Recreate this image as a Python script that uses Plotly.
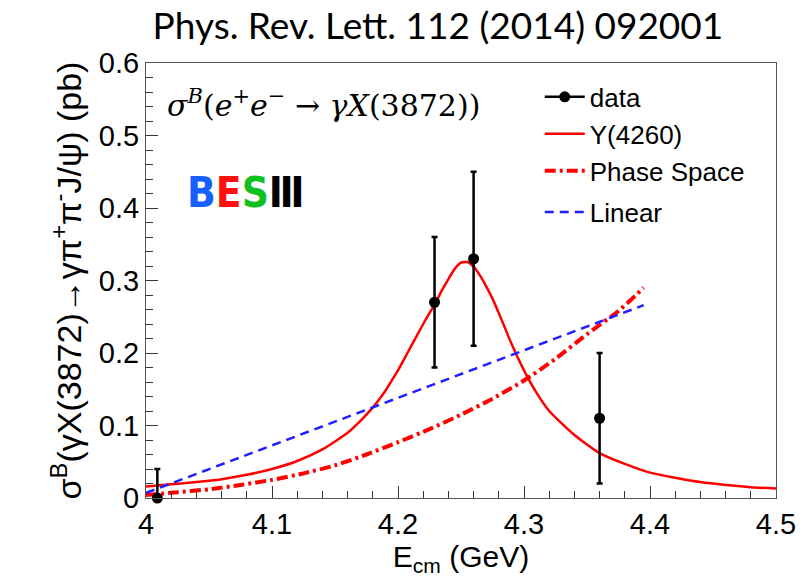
import plotly.graph_objects as go

# ---- data ----
data_x = [4.009, 4.229, 4.260, 4.360]
data_y = [0.00, 0.27, 0.33, 0.11]
data_err_up = [0.04, 0.09, 0.12, 0.09]
data_err_dn = [0.00, 0.09, 0.12, 0.09]

y4260_x = [4.00, 4.02, 4.04, 4.06, 4.08, 4.10, 4.12, 4.14, 4.16, 4.17, 4.18, 4.185, 4.19,
           4.195, 4.20, 4.205, 4.21, 4.215, 4.22, 4.225, 4.23, 4.235, 4.24, 4.245,
           4.25, 4.255, 4.26, 4.265, 4.27, 4.275, 4.28, 4.285, 4.29, 4.30,
           4.31, 4.32, 4.34, 4.36, 4.38, 4.40, 4.42, 4.44, 4.46, 4.48, 4.50]
y4260_y = [0.016, 0.019, 0.022, 0.026, 0.032, 0.040, 0.051, 0.067, 0.090, 0.106, 0.125, 0.136, 0.148,
           0.162, 0.176, 0.192, 0.208, 0.224, 0.240, 0.255, 0.270, 0.287, 0.302, 0.316,
           0.3245, 0.3255, 0.319, 0.307, 0.292, 0.275, 0.255, 0.234, 0.213, 0.176,
           0.145, 0.120, 0.087, 0.062, 0.047, 0.035, 0.028, 0.022, 0.018, 0.015, 0.013]

phsp_x = [4.00, 4.025, 4.05, 4.075, 4.10, 4.125, 4.15, 4.175, 4.20, 4.225, 4.25,
          4.275, 4.30, 4.325, 4.35, 4.375, 4.395]
phsp_y = [0.004, 0.008, 0.012, 0.018, 0.025, 0.034, 0.045, 0.060, 0.077, 0.095, 0.115,
          0.137, 0.162, 0.192, 0.226, 0.258, 0.290]

lin_x = [4.00, 4.395]
lin_y = [0.007, 0.266]

x_range = [4.0, 4.5]
y_range = [0.0, 0.6]

FONT = "Liberation Sans"

fig = go.Figure()

fig.add_trace(go.Scatter(
    x=y4260_x, y=y4260_y, mode="lines", name="Y(4260)",
    line=dict(color="#ff0000", width=2.5, shape="spline", smoothing=0.6),
    legend="legend2", showlegend=True))
fig.add_trace(go.Scatter(
    x=phsp_x, y=phsp_y, mode="lines", name="Phase Space",
    line=dict(color="#ff0000", width=4, dash="11px,4px,3px,4px", shape="spline", smoothing=0.6),
    legend="legend3", showlegend=True))
fig.add_trace(go.Scatter(
    x=lin_x, y=lin_y, mode="lines", name="Linear",
    line=dict(color="#1f1fff", width=2.5, dash="9px,6px"),
    legend="legend4", showlegend=True))
fig.add_trace(go.Scatter(
    x=data_x, y=data_y, mode="markers", name="data",
    marker=dict(color="black", size=11),
    error_y=dict(type="data", symmetric=False, array=data_err_up, arrayminus=data_err_dn,
                 color="black", thickness=2.5, width=3),
    cliponaxis=False, showlegend=False))
# legend-only entry for the data (line + marker, like ROOT's "lep" option)
fig.add_trace(go.Scatter(
    x=[None], y=[None], mode="lines+markers", name="data",
    marker=dict(color="black", size=11), line=dict(color="black", width=2.5),
    legend="legend", showlegend=True, hoverinfo="skip"))

def leg(y):
    return dict(x=0.625, y=y, xanchor="left", yanchor="middle",
                font=dict(family=FONT, size=26, color="black"),
                bgcolor="rgba(0,0,0,0)", itemwidth=40)

fig.update_layout(
    width=811, height=583,
    margin=dict(l=146, r=35, t=63, b=85),
    paper_bgcolor="white", plot_bgcolor="white",
    showlegend=True,
    title=dict(text="Phys. Rev. Lett. 112 (2014) 092001", x=0.54, xanchor="center",
               y=0.955, yanchor="middle", font=dict(family="Lato", size=37, color="black")),
    legend=leg(0.922), legend2=leg(0.837), legend3=leg(0.752), legend4=leg(0.657),
    xaxis=dict(range=x_range, dtick=0.1, tick0=4.0, ticks="inside", ticklen=12,
               tickcolor="#333", showgrid=False, zeroline=False,
               showline=True, linecolor="#555", linewidth=1, mirror=True,
               tickfont=dict(family=FONT, size=29, color="black"),
               minor=dict(dtick=0.02, ticks="inside", ticklen=7, tickcolor="#333"),
               title=dict(text="E<sub>cm</sub> (GeV)", standoff=4,
                          font=dict(family=FONT, size=30, color="black"))),
    yaxis=dict(range=y_range, dtick=0.1, tick0=0, ticks="inside", ticklen=12,
               tickcolor="#333", showgrid=False, zeroline=False,
               showline=True, linecolor="#555", linewidth=1, mirror=True,
               tickfont=dict(family=FONT, size=29, color="black"),
               minor=dict(dtick=0.02, ticks="inside", ticklen=7, tickcolor="#333"),
               title=dict(text="σ<sup>B</sup>(γX(3872)→γπ<sup>+</sup>π<sup>-</sup>J/ψ) (pb)",
                          standoff=6, font=dict(family=FONT, size=34, color="black"))),
)

fig.add_annotation(
    x=0.03, y=0.908, xref="paper", yref="paper", xanchor="left", yanchor="middle",
    showarrow=False,
    text="<i>σ</i><sup><i>B</i></sup>(<i>e</i><sup>+</sup><i>e</i><sup>−</sup> → <i>γX</i>(3872))",
    font=dict(family="DejaVu Serif", size=30, color="black"))

fig.add_annotation(
    x=0.062, y=0.703, xref="paper", yref="paper", xanchor="left", yanchor="middle",
    showarrow=False,
    text="<b><span style='color:#1560ff'>B</span><span style='color:#ff1010'>E</span>"
         "<span style='color:#10c020'>S</span><span style='color:black'>Ⅲ</span></b>",
    font=dict(family="DejaVu Sans Condensed", size=42, color="black"))

fig.write_html("out.html")
